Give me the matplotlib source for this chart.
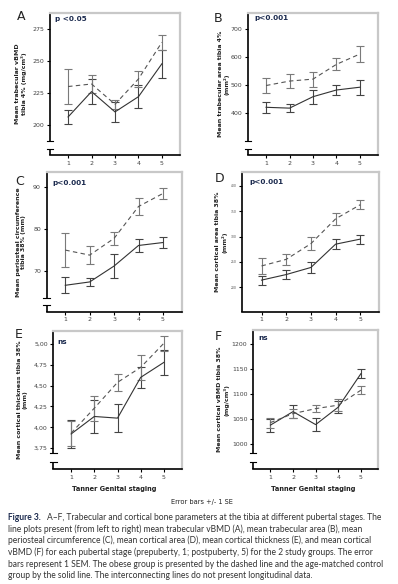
import matplotlib.pyplot as plt

stages = [1, 2, 3, 4, 5]

# A - trabecular vBMD tibia 4%
a_obese = [230, 232, 216, 236, 265]
a_obese_se = [13.5, 7, 3.5, 6, 6]
a_ctrl = [206, 226, 210, 222, 248]
a_ctrl_se = [5.5, 10, 8, 9, 11]

# B - trabecular area tibia 4%
b_obese = [497, 513, 520, 573, 610]
b_obese_se = [26, 24, 27, 21, 28]
b_ctrl = [419, 416, 457, 481, 491]
b_ctrl_se = [20, 15, 25, 17, 27]

# C - periosteal circumference tibia 38%
c_obese = [75.0, 73.8, 77.8, 85.4, 88.5]
c_obese_se = [4.1, 2.1, 1.6, 2.1, 1.2]
c_ctrl = [66.6, 67.4, 71.2, 76.1, 76.8]
c_ctrl_se = [1.9, 1.0, 2.8, 1.5, 1.4]

# D - cortical area tibia 38%
d_obese = [242, 255, 286, 335, 363]
d_obese_se = [15, 10.5, 13, 12.5, 8.5]
d_ctrl = [214, 225, 239, 285, 295]
d_ctrl_se = [9, 8, 10, 10.5, 9]

# E - cortical thickness tibia 38%
e_obese = [3.93, 4.23, 4.54, 4.72, 5.01]
e_obese_se = [0.15, 0.15, 0.10, 0.15, 0.09]
e_ctrl = [3.92, 4.13, 4.11, 4.60, 4.78]
e_ctrl_se = [0.17, 0.20, 0.17, 0.13, 0.15]

# F - cortical vBMD tibia 38%
f_obese = [1043, 1061, 1071, 1078, 1108]
f_obese_se = [10, 8.5, 7, 12, 8.5]
f_ctrl = [1038, 1065, 1039, 1074, 1141]
f_ctrl_se = [13, 13, 12.5, 12.5, 8.5]

caption = [
    "A–F, Trabecular and cortical bone parameters at the tibia at different pubertal stages. The",
    "line plots present (from left to right) mean trabecular vBMD (A), mean trabecular area (B), mean",
    "periosteal circumference (C), mean cortical area (D), mean cortical thickness (E), and mean cortical",
    "vBMD (F) for each pubertal stage (prepuberty, 1; postpuberty, 5) for the 2 study groups. The error",
    "bars represent 1 SEM. The obese group is presented by the dashed line and the age-matched control",
    "group by the solid line. The interconnecting lines do not present longitudinal data.",
]

W, H = 398.0, 584.0
fig = plt.figure(figsize=(W / 100, H / 100), dpi=100)
navy = '#1b2a4e'


def panel(box, letter, letter_xy, ptext, pxy, ylabel, ylabel_x,
          obese, obese_se, ctrl, ctrl_se, ylim, yticks, yticklabels, brk,
          tick_fs=4.5):
    l, r, t, b = box
    ax = fig.add_axes([l / W, 1 - b / H, (r - l) / W, (b - t) / H])
    ax.errorbar(stages, ctrl, yerr=ctrl_se, color='#333333', lw=0.8,
                ecolor='#444444', elinewidth=0.8, capsize=2.8, capthick=0.8)
    ax.errorbar(stages, obese, yerr=obese_se, color='#555555', lw=0.8,
                ls=(0, (4, 3)), ecolor='#7a7a7a', elinewidth=0.8,
                capsize=2.8, capthick=0.8)
    ax.set_xlim(0.23, 5.77)
    ax.set_ylim(*ylim)
    ax.set_xticks(stages)
    ax.set_xticklabels([str(s) for s in stages])
    ax.set_yticks(yticks)
    ax.set_yticklabels(yticklabels)
    ax.tick_params(direction='out', length=2.5, width=0.8, pad=1.5,
                   labelsize=4.5, labelcolor='#444444')
    ax.tick_params(axis='y', labelsize=tick_fs)
    for s in ['top', 'right']:
        ax.spines[s].set_color('#c8c8c8')
        ax.spines[s].set_linewidth(1.6)
    ax.spines['bottom'].set_linewidth(1.2)
    ax.spines['left'].set_visible(False)
    # broken y axis
    hi, lo = brk
    kw = dict(transform=ax.transAxes, color='black', lw=1.2, clip_on=False,
              solid_capstyle='butt')
    ax.plot([0, 0], [1, hi], **kw)
    if hi > 0:
        ax.plot([-0.025, 0.025], [hi, hi], lw=0.8, transform=ax.transAxes,
                color='black', clip_on=False)
        ax.plot([0, 0], [lo, 0], **kw)
        ax.plot([-0.025, 0.025], [lo, lo], lw=0.8, transform=ax.transAxes,
                color='black', clip_on=False)
    ax.text(pxy[0], pxy[1], ptext, transform=ax.transAxes, fontsize=5.2,
            fontweight='bold', color=navy, ha='left', va='center')
    fig.text(letter_xy[0] / W, 1 - letter_xy[1] / H, letter, fontsize=9,
             color='#222222', ha='center', va='center')
    fig.text(ylabel_x / W, 1 - (t + b) / 2 / H, ylabel, rotation=90,
             fontsize=4.5, fontweight='bold', color='#222222',
             ha='center', va='center', linespacing=1.2)
    return ax


panel((50, 180, 13, 155), 'A', (21, 17), 'p <0.05', (0.04, 0.958),
      'Mean trabecular vBMD\ntibia 4% (mg/cm³)', 21,
      a_obese, a_obese_se, a_ctrl, a_ctrl_se, (176, 288),
      [200, 225, 250, 275], ['200', '225', '250', '275'], (0.10, 0.045))

panel((248, 378, 13, 155), 'B', (218, 19), 'p<0.001', (0.05, 0.967),
      'Mean trabecular area tibia 4%\n(mm²)', 224,
      b_obese, b_obese_se, b_ctrl, b_ctrl_se, (248, 757),
      [400, 500, 600, 700], ['400', '500', '600', '700'], (0.10, 0.045))

panel((46.5, 181.7, 171.7, 311.7), 'C', (20, 181), 'p<0.001', (0.04, 0.92),
      'Mean periosteal circumference\ntibia 38% (mm)', 21,
      c_obese, c_obese_se, c_ctrl, c_ctrl_se, (60.3, 93.7),
      [70, 80, 90], ['70', '80', '90'], (0.10, 0.045))

panel((242.5, 379.3, 172.3, 311.7), 'D', (219.5, 178.5), 'p<0.001', (0.05, 0.93),
      'Mean cortical area tibia 38%\n(mm²)', 221,
      d_obese, d_obese_se, d_ctrl, d_ctrl_se, (151.6, 427),
      [200, 250, 300, 350, 400], ['200', '250', '300', '350', '400'],
      (0.0, 0.0), tick_fs=2.2)

panel((53.3, 181.7, 330.7, 469.3), 'E', (19, 334), 'ns', (0.03, 0.92),
      'Mean cortical thickness tibia 38%\n(mm)', 22,
      e_obese, e_obese_se, e_ctrl, e_ctrl_se, (3.495, 5.161),
      [3.75, 4.0, 4.25, 4.5, 4.75, 5.0],
      ['3,75', '4,00', '4,25', '4,50', '4,75', '5,00'], (0.115, 0.05))

panel((253, 378.3, 330, 469.3), 'F', (218.5, 336), 'ns', (0.04, 0.94),
      'Mean cortical vBMD tibia 38%\n(mg/cm³)', 223,
      f_obese, f_obese_se, f_ctrl, f_ctrl_se, (949.4, 1228.6),
      [1000, 1050, 1100, 1150, 1200],
      ['1000', '1050', '1100', '1150', '1200'], (0.115, 0.05))

for cx in [114.5, 313]:
    fig.text(cx / W, 1 - 489 / H, 'Tanner Genital staging', fontsize=4.8,
             fontweight='bold', color='#222222', ha='center', va='center')
fig.text(201.7 / W, 1 - 501.7 / H, 'Error bars +/- 1 SE', fontsize=4.8,
         color='#222222', ha='center', va='center')

# caption: size the font so the 5th line spans the same width as in the figure
cap_font = 'Lato'
fig.canvas.draw()
renderer = fig.canvas.get_renderer()
probe = fig.text(0, 0, caption[4], fontsize=6.4, family=cap_font)
cap_fs = 6.4 * 378 / probe.get_window_extent(renderer).width
probe.remove()

y0 = 517.3
head = fig.text(8.3 / W, 1 - y0 / H, 'Figure 3.', fontsize=cap_fs,
                fontweight='bold', color=navy, family=cap_font,
                ha='left', va='center')
hw = head.get_window_extent(renderer).width
for i, line in enumerate(caption):
    x = 8.3 + (hw + 6 if i == 0 else 0)
    fig.text(x / W, 1 - (y0 + i * 11.7) / H, line, fontsize=cap_fs,
             color='#333333', family=cap_font, ha='left', va='center')

fig.savefig('out.png', dpi=100)
